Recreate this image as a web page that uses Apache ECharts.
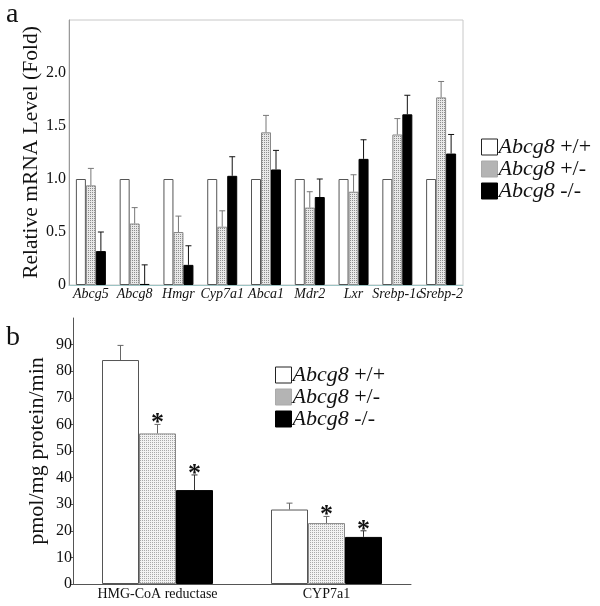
<!DOCTYPE html>
<html>
<head>
<meta charset="utf-8">
<script src="https://cdn.jsdelivr.net/npm/echarts@6/dist/echarts.min.js"></script>
<style>html,body{margin:0;padding:0;background:#fff;}#c{width:600px;height:606px;}</style>
</head>
<body>
<div id="c"></div>
<script>
// ---- Panel a data ----
const categoriesA = ['Abcg5','Abcg8','Hmgr','Cyp7a1','Abca1','Mdr2','Lxr','Srebp-1c','Srebp-2'];
const wtA     = [1, 1, 1, 1, 1, 1, 1, 1, 1];
const hetA    = [0.94, 0.58, 0.50, 0.55, 1.44, 0.73, 0.88, 1.42, 1.77];
const hetErrA = [1.10, 0.73, 0.65, 0.70, 1.60, 0.88, 1.04, 1.57, 1.92];
const koA     = [0.32, 0.01, 0.19, 1.03, 1.09, 0.83, 1.19, 1.61, 1.24];
const koErrA  = [0.50, 0.19, 0.37, 1.21, 1.27, 1.00, 1.37, 1.79, 1.42];
const yTicksA = [0, 0.5, 1.0, 1.5, 2.0];

// ---- Panel b data ----
const categoriesB = ['HMG-CoA reductase', 'CYP7a1'];
const wtB     = [84.2, 28.0];
const wtErrB  = [89.7, 30.4];
const hetB    = [56.6, 22.9];
const hetErrB = [60.0, 25.4];
const koB     = [35.3, 17.7];
const koErrB  = [41.0, 20.0];
const starHetB = [true, true];
const starKoB  = [true, true];
const yTicksB = [0, 10, 20, 30, 40, 50, 60, 70, 80, 90];

const seriesNames = ['Abcg8 +/+', 'Abcg8 +/-', 'Abcg8 -/-'];

function makePattern(bg, dot) {
  const c = document.createElement('canvas');
  c.width = 2; c.height = 2;
  const g = c.getContext('2d');
  g.fillStyle = bg; g.fillRect(0, 0, 2, 2);
  g.fillStyle = dot;
  g.fillRect(0, 0, 1, 1);
  return { image: c, repeat: 'repeat' };
}
const patA = makePattern('#e8e8e8', '#8c8c8c');
const patB = makePattern('#f2f2f2', '#a8a8a8');

const SERIF = 'Liberation Serif';

function errSeries(name, xi, yi, vals, errs, offset, color, stars) {
  return {
    type: 'custom', name: name + ' err', xAxisIndex: xi, yAxisIndex: yi, z: 5,
    silent: true, legendHoverLink: false,
    data: vals.map((v, i) => [i, v, errs[i], stars ? (stars[i] ? 1 : 0) : 0]),
    renderItem: function (params, api) {
      const x = api.value(0);
      const p0 = api.coord([x, api.value(1)]);
      const p1 = api.coord([x, api.value(2)]);
      const cx = p0[0] + offset;
      const ch = [
        { type: 'line', shape: { x1: cx, y1: p0[1], x2: cx, y2: p1[1] }, style: { stroke: color, lineWidth: 1 } },
        { type: 'line', shape: { x1: cx - 3, y1: p1[1], x2: cx + 3, y2: p1[1] }, style: { stroke: color, lineWidth: 1 } }
      ];
      if (api.value(3)) {
        ch.push({ type: 'text', style: { text: '*', x: cx, y: p1[1] - 1, align: 'center', verticalAlign: 'middle', fontFamily: SERIF, fontWeight: 'bold', fontSize: 26, fill: '#111' } });
      }
      return { type: 'group', children: ch };
    }
  };
}

const bwA = 10, bwB = 37;
const legendRich = {
  i: { fontFamily: SERIF, fontStyle: 'italic', fontSize: 22, lineHeight: 18, color: '#111' },
  n: { fontFamily: SERIF, fontSize: 22, lineHeight: 18, color: '#111' }
};
function legendFmt(n) { const p = n.split(' '); return '{i|' + p[0] + '} {n|' + p[1] + '}'; }
const legendData = [
  { name: seriesNames[0], icon: 'rect', itemStyle: { color: '#fff', borderColor: '#222', borderWidth: 1 } },
  { name: seriesNames[1], icon: 'rect', itemStyle: { color: '#b4b4b4', borderColor: '#aaa', borderWidth: 1 } },
  { name: seriesNames[2], icon: 'rect', itemStyle: { color: '#000', borderColor: '#000', borderWidth: 1 } }
];
function makeLegend(left, top) {
  return { orient: 'vertical', left: left, top: top, padding: 0, itemWidth: 16, itemHeight: 16, itemGap: 0, selectedMode: false,
    data: legendData, formatter: legendFmt,
    textStyle: { fontFamily: SERIF, fontSize: 22, lineHeight: 18, rich: legendRich, padding: [0, 0, 0, -4] } };
}

const chart = echarts.init(document.getElementById('c'), null, { renderer: 'canvas' });
chart.setOption({
  animation: false,
  backgroundColor: '#fff',
  title: [
    { text: 'a', left: 6, top: 1, padding: 0, textStyle: { fontFamily: SERIF, fontSize: 28, lineHeight: 28, fontWeight: 'normal', color: '#111' } },
    { text: 'b', left: 6, top: 324, padding: 0, textStyle: { fontFamily: SERIF, fontSize: 28, lineHeight: 28, fontWeight: 'normal', color: '#111' } }
  ],
  legend: [ makeLegend(481, 136), makeLegend(275, 364) ],
  grid: [
    { left: 69, top: 20, right: 137, bottom: 321, show: true, borderColor: '#c8c8c8', borderWidth: 1, backgroundColor: 'transparent' },
    { left: 73, top: 318, right: 189, bottom: 22 }
  ],
  xAxis: [
    { type: 'category', gridIndex: 0, data: categoriesA,
      axisLine: { lineStyle: { color: '#9cc4c4', width: 1 } }, axisTick: { show: false },
      axisLabel: { interval: 0, margin: 2, fontFamily: SERIF, fontStyle: 'italic', fontSize: 14, color: '#111', hideOverlap: false } },
    { type: 'category', gridIndex: 1, data: categoriesB,
      axisLine: { lineStyle: { color: '#555', width: 1 } }, axisTick: { show: false },
      axisLabel: { interval: 0, margin: 3, fontFamily: SERIF, fontSize: 14, color: '#111' } }
  ],
  yAxis: [
    { type: 'value', gridIndex: 0, min: 0, max: 2.5, interval: 0.5,
      name: 'Relative mRNA Level (Fold)', nameLocation: 'middle', nameGap: 27, nameMoveOverlap: false,
      nameTextStyle: { fontFamily: SERIF, fontSize: 21.5, color: '#111' },
      splitLine: { show: false },
      axisLine: { show: true, lineStyle: { color: '#999' } }, axisTick: { show: false },
      axisLabel: { customValues: yTicksA, margin: 3, fontFamily: SERIF, fontSize: 16, color: '#111',
        formatter: v => v === 0 ? '0' : v.toFixed(1) } },
    { type: 'value', gridIndex: 1, min: 0, max: 100, interval: 10,
      name: 'pmol/mg protein/min', nameLocation: 'middle', nameGap: 25, nameMoveOverlap: false,
      nameTextStyle: { fontFamily: SERIF, fontSize: 22, color: '#111' },
      splitLine: { show: false },
      axisLine: { show: true, lineStyle: { color: '#555' } },
      axisTick: { show: true, length: 3, customValues: yTicksB, lineStyle: { color: '#555' } },
      axisLabel: { customValues: yTicksB, margin: 1, fontFamily: SERIF, fontSize: 16, color: '#111' } }
  ],
  series: [
    { type: 'bar', name: seriesNames[0], xAxisIndex: 0, yAxisIndex: 0, data: wtA, barWidth: bwA, barGap: '0%',
      itemStyle: { color: '#fff', borderColor: '#555', borderWidth: 1 } },
    { type: 'bar', name: seriesNames[1], xAxisIndex: 0, yAxisIndex: 0, data: hetA, barWidth: bwA, barGap: '0%',
      itemStyle: { color: patA, borderColor: '#888', borderWidth: 1 } },
    { type: 'bar', name: seriesNames[2], xAxisIndex: 0, yAxisIndex: 0, data: koA, barWidth: bwA, barGap: '0%',
      itemStyle: { color: '#000', borderColor: '#000', borderWidth: 1 } },
    errSeries('a het', 0, 0, hetA, hetErrA, 0, '#777', null),
    errSeries('a ko', 0, 0, koA, koErrA, bwA, '#111', null),

    { type: 'bar', name: seriesNames[0], xAxisIndex: 1, yAxisIndex: 1, data: wtB, barWidth: bwB, barGap: '0%',
      itemStyle: { color: '#fff', borderColor: '#555', borderWidth: 1 } },
    { type: 'bar', name: seriesNames[1], xAxisIndex: 1, yAxisIndex: 1, data: hetB, barWidth: bwB, barGap: '0%',
      itemStyle: { color: patB, borderColor: '#888', borderWidth: 1 } },
    { type: 'bar', name: seriesNames[2], xAxisIndex: 1, yAxisIndex: 1, data: koB, barWidth: bwB, barGap: '0%',
      itemStyle: { color: '#000', borderColor: '#000', borderWidth: 1 } },
    errSeries('b wt', 1, 1, wtB, wtErrB, -bwB, '#666', null),
    errSeries('b het', 1, 1, hetB, hetErrB, 0, '#666', starHetB),
    errSeries('b ko', 1, 1, koB, koErrB, bwB, '#333', starKoB)
  ]
});
</script>
</body>
</html>
